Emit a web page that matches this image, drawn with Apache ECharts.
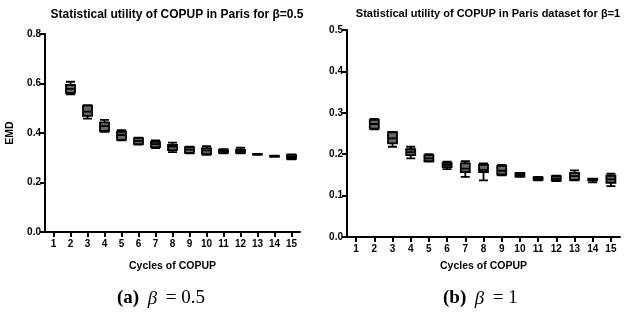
<!DOCTYPE html>
<html><head><meta charset="utf-8">
<script src="https://cdn.jsdelivr.net/npm/echarts@6/dist/echarts.min.js"></script>
<style>html,body{margin:0;padding:0;background:#fff}#c{width:629px;height:314px}</style>
</head><body><div id="c"></div>
<script>
const cycles = ['1','2','3','4','5','6','7','8','9','10','11','12','13','14','15'];
// [min, Q1, median, Q3, max]
const emdBeta05 = [
  '-',
  [0.556, 0.562, 0.578, 0.594, 0.607],
  [0.458, 0.469, 0.486, 0.511, 0.513],
  [0.405, 0.408, 0.428, 0.443, 0.453],
  [0.370, 0.372, 0.392, 0.405, 0.412],
  [0.353, 0.355, 0.368, 0.379, 0.381],
  [0.339, 0.343, 0.355, 0.364, 0.370],
  [0.323, 0.331, 0.345, 0.352, 0.361],
  [0.318, 0.320, 0.333, 0.343, 0.345],
  [0.312, 0.315, 0.330, 0.339, 0.347],
  [0.318, 0.320, 0.326, 0.333, 0.335],
  [0.318, 0.320, 0.327, 0.333, 0.341],
  [0.312, 0.313, 0.314, 0.315, 0.316],
  [0.304, 0.305, 0.306, 0.307, 0.308],
  [0.294, 0.296, 0.303, 0.312, 0.314]
];
const emdBeta1 = [
  '-',
  [0.260, 0.262, 0.273, 0.283, 0.285],
  [0.218, 0.226, 0.238, 0.253, 0.254],
  [0.190, 0.198, 0.205, 0.212, 0.218],
  [0.182, 0.183, 0.190, 0.198, 0.200],
  [0.164, 0.169, 0.174, 0.179, 0.182],
  [0.145, 0.157, 0.165, 0.178, 0.183],
  [0.137, 0.157, 0.162, 0.174, 0.178],
  [0.149, 0.151, 0.160, 0.172, 0.174],
  [0.145, 0.146, 0.150, 0.154, 0.155],
  [0.137, 0.138, 0.141, 0.144, 0.145],
  [0.135, 0.136, 0.141, 0.147, 0.148],
  [0.137, 0.138, 0.147, 0.155, 0.161],
  [0.132, 0.137, 0.139, 0.141, 0.141],
  [0.123, 0.131, 0.139, 0.148, 0.153]
];
const yTicksLeft = [0, 0.8, 0.2];
const yTicksRight = [0, 0.5, 0.1];

const font = 'Liberation Sans, Arial, sans-serif';
const serif = 'Liberation Serif, DejaVu Serif, serif';
const axisLine = {lineStyle:{color:'#000', width:2}};
const axisTick = {show:true, length:5, lineStyle:{color:'#000', width:2}};
function xAxis(gi, gap){
  return {type:'category', gridIndex:gi, data:cycles, boundaryGap:true,
    axisLine:{...axisLine, onZero:false}, axisTick:{...axisTick, alignWithLabel:true},
    axisLabel:{color:'#000', fontWeight:'bold', fontSize:10, fontFamily:font, margin:7, interval:0},
    name:'Cycles of COPUP', nameLocation:'middle', nameGap:gap,
    nameTextStyle:{color:'#000', fontWeight:'bold', fontSize:10.5, fontFamily:font},
    splitLine:{show:false}};
}
function yAxis(gi, t, name){
  return {type:'value', gridIndex:gi, min:t[0], max:t[1], interval:t[2],
    axisLine:{show:true, ...axisLine}, axisTick:axisTick,
    axisLabel:{color:'#000', fontWeight:'bold', fontSize:10, fontFamily:font, margin:4,
      formatter:v=>v.toFixed(1)},
    name:name, nameLocation:'middle', nameGap:29,
    nameTextStyle:{color:'#000', fontWeight:'bold', fontSize:10.5, fontFamily:font},
    splitLine:{show:false}};
}
const boxStyle = {color:'#666', borderColor:'#000', borderWidth:1.8};
const rich = {
  b:{fontFamily:serif, fontWeight:'bold', fontSize:19, fill:'#000'},
  i:{fontFamily:serif, fontStyle:'italic', fontSize:19, fill:'#000'},
  n:{fontFamily:serif, fontSize:19, fill:'#000'}
};
const chart = echarts.init(document.getElementById('c'), null, {renderer:'canvas'});
chart.setOption({
  animation:false,
  backgroundColor:'#fff',
  title:[
    {text:'Statistical utility of COPUP in Paris for \u03b2=0.5', left:172, top:4, textAlign:'center',
     textStyle:{fontSize:12, fontWeight:'bold', color:'#000', fontFamily:font}},
    {text:'Statistical utility of COPUP in Paris dataset for \u03b2=1', left:483, top:3, textAlign:'center',
     textStyle:{fontSize:11, fontWeight:'bold', color:'#000', fontFamily:font}}
  ],
  grid:[
    {left:45, right:329, top:34, bottom:82},
    {left:347, right:9, top:30, bottom:77}
  ],
  xAxis:[xAxis(0, 29), xAxis(1, 24)],
  yAxis:[yAxis(0, yTicksLeft, 'EMD'), yAxis(1, yTicksRight, '')],
  series:[
    {type:'boxplot', xAxisIndex:0, yAxisIndex:0, data:emdBeta05, boxWidth:[9,9], itemStyle:boxStyle},
    {type:'boxplot', xAxisIndex:1, yAxisIndex:1, data:emdBeta1, boxWidth:[9,9], itemStyle:boxStyle}
  ],
  graphic:[
    {type:'text', left:117, top:289, style:{
      text:'{b|(a)}{n|\u2009 }{i|\u03b2}{n|\u2009 = 0.5}', rich:rich}},
    {type:'text', left:443, top:289, style:{
      text:'{b|(b)}{n|\u2009 }{i|\u03b2}{n|\u2009 = 1}', rich:rich}}
  ]
});
</script></body></html>
